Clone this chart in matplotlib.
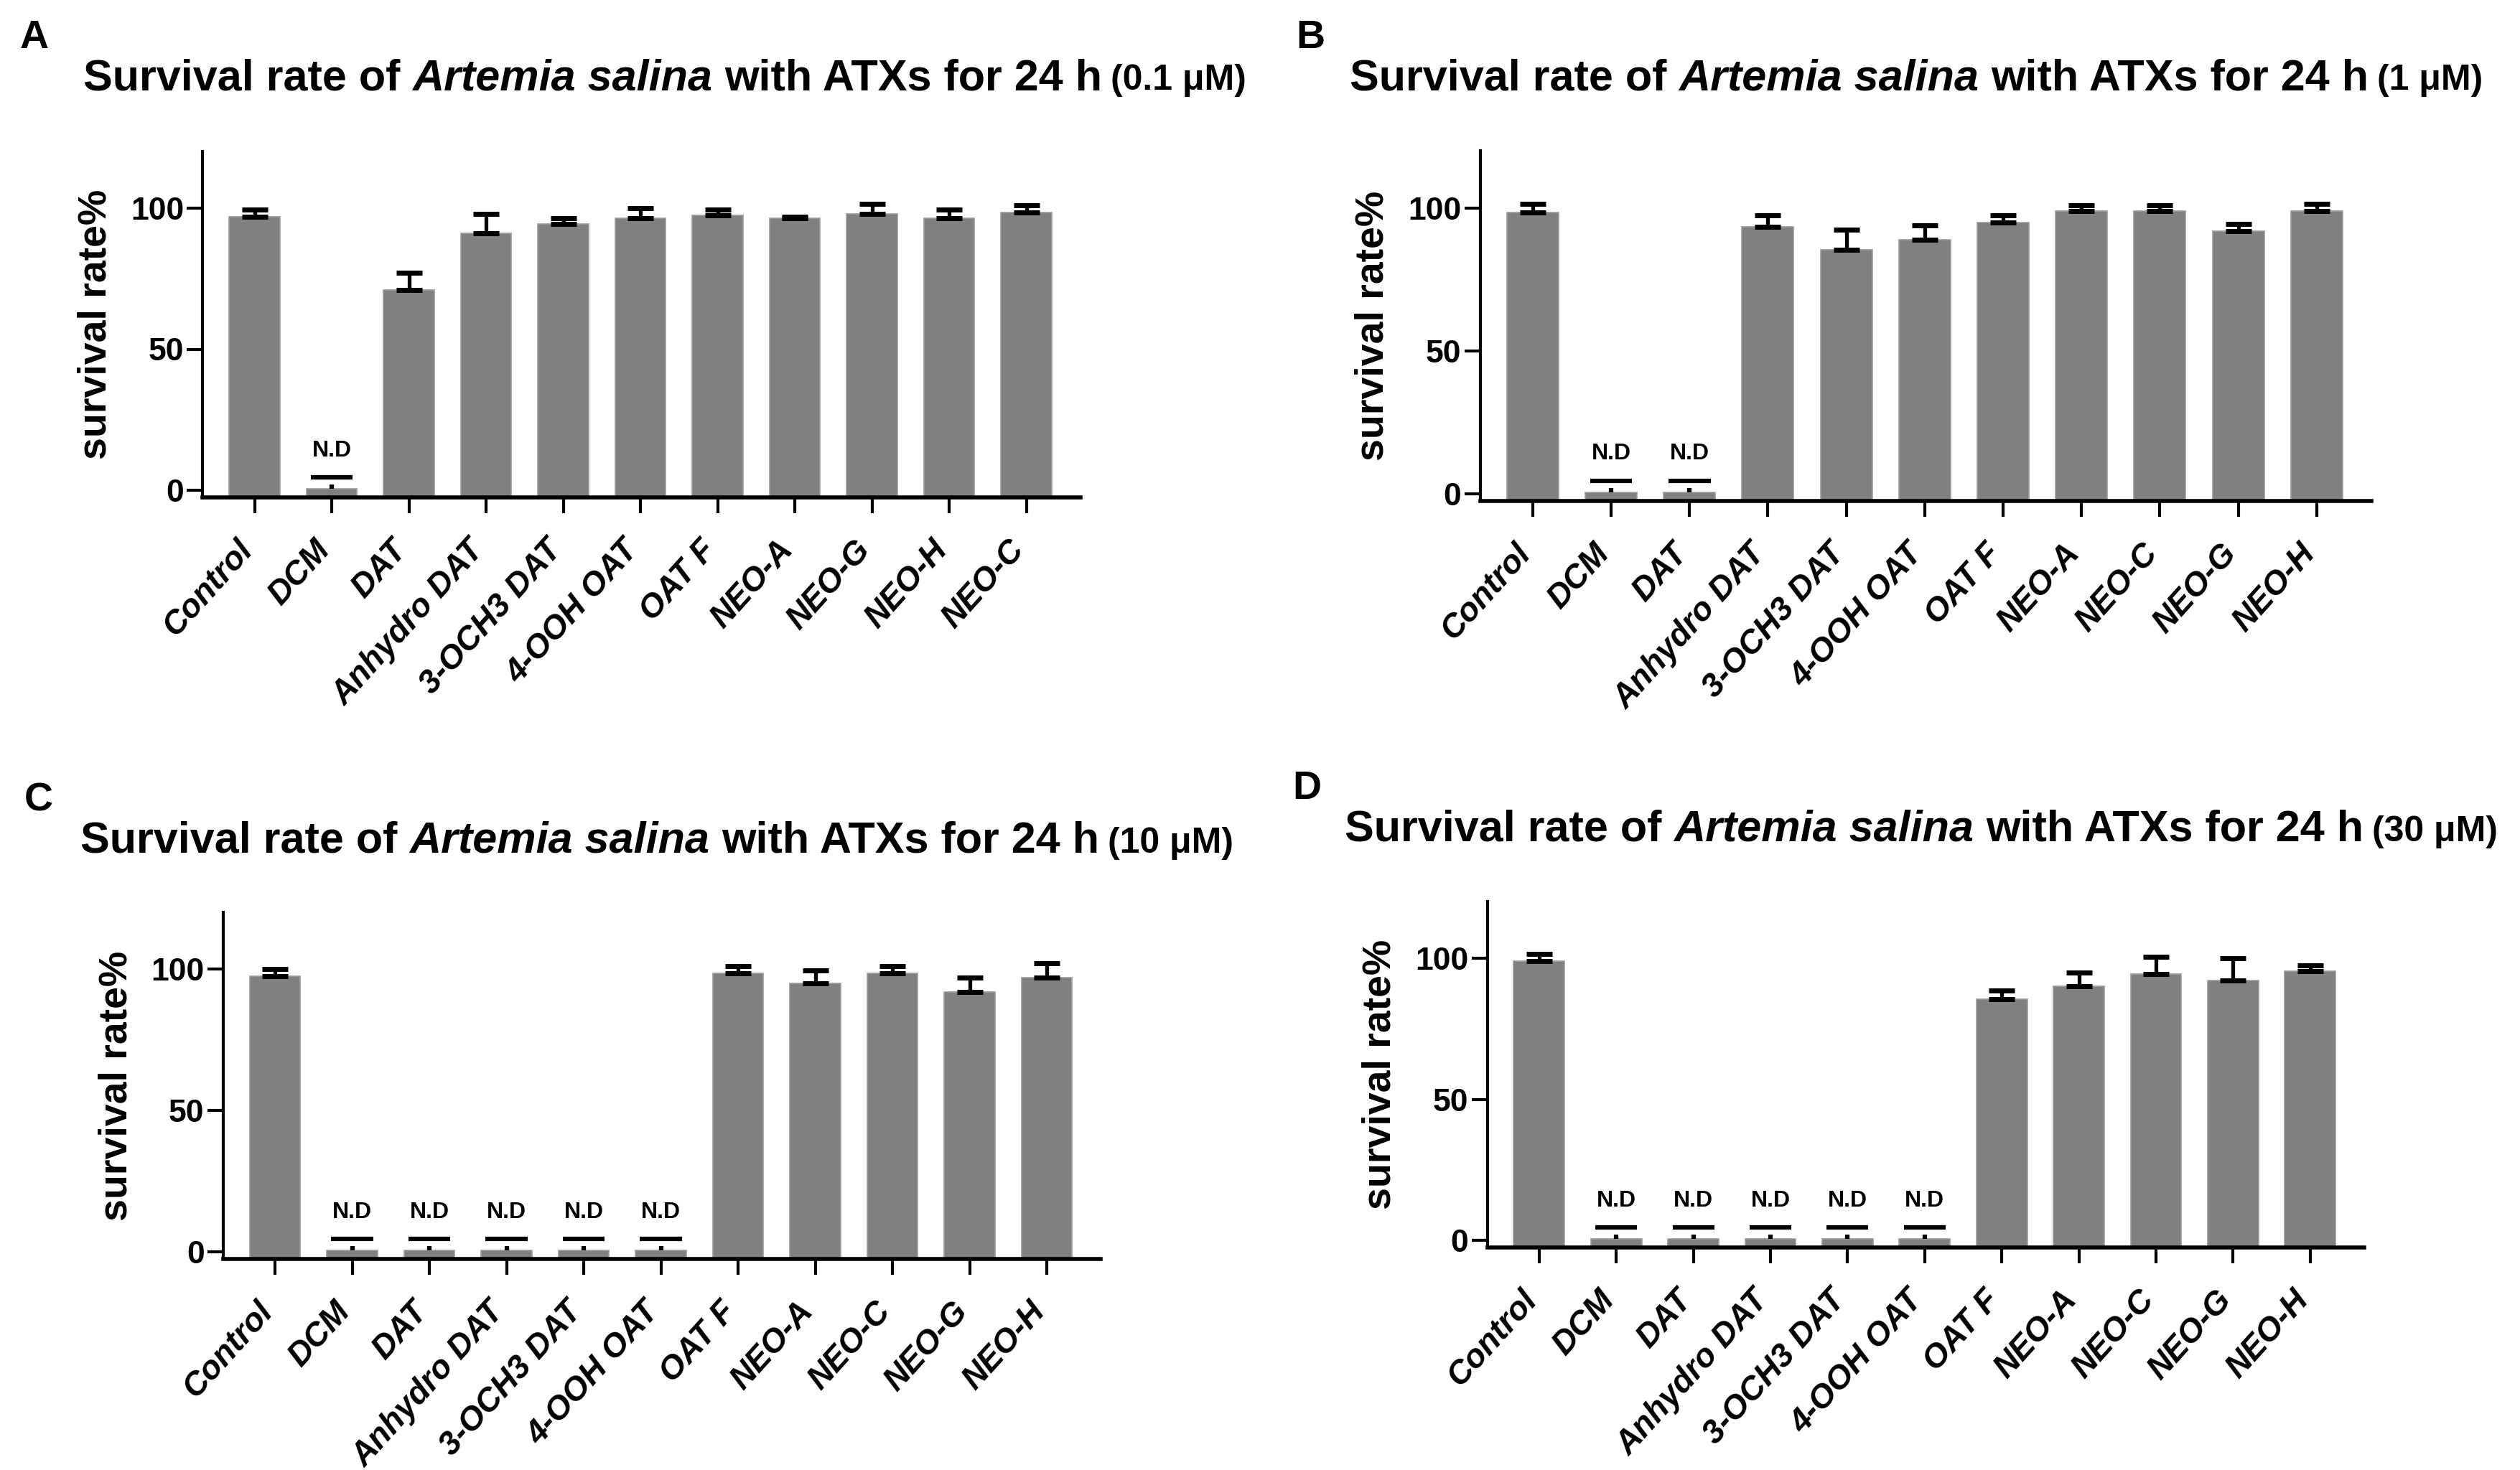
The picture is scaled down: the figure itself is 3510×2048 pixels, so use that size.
import matplotlib
matplotlib.use("Agg")
import matplotlib.pyplot as plt
from matplotlib.transforms import ScaledTranslation
import numpy as np

W, H, DPI = 3510, 2048, 100
FONT = ["Liberation Sans", "DejaVu Sans"]
NARROW = ["Liberation Sans Narrow", "Liberation Sans", "DejaVu Sans"]
plt.rcParams["font.family"] = FONT

# ---------------- data ----------------
cats_A = ["Control", "DCM", "DAT", "Anhydro DAT", "3-OCH3 DAT", "4-OOH OAT",
          "OAT F", "NEO-A", "NEO-G", "NEO-H", "NEO-C"]
mean_A = [97.0, 0.5, 71.0, 91.0, 94.5, 96.5, 97.5, 96.5, 98.0, 96.5, 98.5]
err_A = [2.5, 1.5, 6.0, 7.0, 2.0, 3.5, 2.0, 0.5, 3.5, 3.0, 2.5]
nd_A = [0, 1, 0, 0, 0, 0, 0, 0, 0, 0, 0]

cats_B = ["Control", "DCM", "DAT", "Anhydro DAT", "3-OCH3 DAT", "4-OOH OAT",
          "OAT F", "NEO-A", "NEO-C", "NEO-G", "NEO-H"]
mean_B = [98.5, 0.5, 0.5, 93.5, 85.5, 89.0, 95.0, 99.0, 99.0, 92.0, 99.0]
err_B = [3.0, 1.5, 1.5, 4.0, 7.0, 5.0, 2.5, 2.0, 2.0, 2.5, 2.5]
nd_B = [0, 1, 1, 0, 0, 0, 0, 0, 0, 0, 0]

cats_C = ["Control", "DCM", "DAT", "Anhydro DAT", "3-OCH3 DAT", "4-OOH OAT",
          "OAT F", "NEO-A", "NEO-C", "NEO-G", "NEO-H"]
mean_C = [97.5, 0.5, 0.5, 0.5, 0.5, 0.5, 98.5, 95.0, 98.5, 92.0, 97.0]
err_C = [2.5, 1.5, 1.5, 1.5, 1.5, 1.5, 2.5, 4.5, 2.5, 5.0, 5.0]
nd_C = [0, 1, 1, 1, 1, 1, 0, 0, 0, 0, 0]

cats_D = ["Control", "DCM", "DAT", "Anhydro DAT", "3-OCH3 DAT", "4-OOH OAT",
          "OAT F", "NEO-A", "NEO-C", "NEO-G", "NEO-H"]
mean_D = [99.0, 0.5, 0.5, 0.5, 0.5, 0.5, 85.5, 90.0, 94.5, 92.0, 95.5]
err_D = [2.5, 1.5, 1.5, 1.5, 1.5, 1.5, 3.0, 5.0, 6.0, 8.0, 2.0]
nd_D = [0, 1, 1, 1, 1, 1, 0, 0, 0, 0, 0]

letters = ["A", "B", "C", "D"]
concs = ["(0.1 μM)", "(1 μM)", "(10 μM)", "(30 μM)"]
yticks = [0, 50, 100]
ylabel = "survival rate%"
nd_text = "N.D"

# ---------------- layout (pixels) ----------------
XL = (-0.67, 10.7)
YL = (-2.5, 120)
layout = [
    dict(x0=354.5, sp=107.5, zero=683, sc=3.93, lab=(28, 67), title=(116, 125)),
    dict(x0=2134.8, sp=109.2, zero=688, sc=3.98, lab=(1805, 67), title=(1880, 125)),
    dict(x0=383.0, sp=107.5, zero=1744, sc=3.94, lab=(34, 1129), title=(112, 1188)),
    dict(x0=2143.8, sp=107.4, zero=1728, sc=3.93, lab=(1800, 1113), title=(1873, 1172)),
]
datasets = [(cats_A, mean_A, err_A, nd_A), (cats_B, mean_B, err_B, nd_B),
            (cats_C, mean_C, err_C, nd_C), (cats_D, mean_D, err_D, nd_D)]

fig = plt.figure(figsize=(W / DPI, H / DPI), dpi=DPI)
renderer = fig.canvas.get_renderer()

PT = DPI / 72.0
GREY = "#808080"


def fx(px):
    return px / W


def fy(py):
    return 1 - py / H


def draw_title(xpx, base, conc):
    pieces = [("Survival rate of", dict(weight="bold", style="normal", size=44, family=FONT)),
              ("Artemia salina", dict(weight="bold", style="italic", size=44, family=FONT)),
              ("with ATXs for 24 h", dict(weight="bold", style="normal", size=44, family=FONT)),
              (conc, dict(weight="bold", style="normal", size=36, family=NARROW))]
    x = xpx
    for i, (s, kw) in enumerate(pieces):
        t = fig.text(fx(x), fy(base), s, ha="left", va="baseline", **kw)
        bb = t.get_window_extent(renderer=renderer)
        x = x + bb.width + 0.278 * kw["size"] * PT * (1.0 if i < 2 else 0.7)


for (cats, mean, err, nd), L, letter, conc in zip(datasets, layout, letters, concs):
    left = L["x0"] + XL[0] * L["sp"]
    right = L["x0"] + XL[1] * L["sp"]
    top = L["zero"] - YL[1] * L["sc"]
    bottom = L["zero"] - YL[0] * L["sc"]
    ax = fig.add_axes([fx(left), fy(bottom), (right - left) / W, (bottom - top) / H])
    ax.set_xlim(*XL)
    ax.set_ylim(*YL)
    x = np.arange(len(cats))
    m = np.array(mean)
    e = np.array(err)
    ndm = np.array(nd, dtype=bool)
    ax.bar(x, m - YL[0], bottom=YL[0], width=0.66, color=GREY,
           edgecolor="#9c9c9c", linewidth=1.2, zorder=2)
    ok = ~ndm
    ax.errorbar(x[ok], m[ok], yerr=[np.zeros(ok.sum()), e[ok]], fmt="none",
                ecolor="black", elinewidth=3.8, capsize=13, capthick=5.0, zorder=3)
    if ndm.any():
        ax.errorbar(x[ndm], m[ndm], yerr=[np.zeros(ndm.sum()), e[ndm]], fmt="none",
                    ecolor="black", elinewidth=4.5, capsize=0, zorder=3)
        ax.hlines(m[ndm] + e[ndm] + 2.5, x[ndm] - 0.27, x[ndm] + 0.27,
                  colors="black", linewidth=4.5, zorder=3)
        for xi, yi in zip(x[ndm], m[ndm] + e[ndm]):
            ax.text(xi, yi + 12, nd_text, ha="center", va="center",
                    fontsize=23, fontweight="bold", family=NARROW)
    for s in ("top", "right"):
        ax.spines[s].set_visible(False)
    ax.spines["left"].set_linewidth(3.0)
    ax.spines["bottom"].set_linewidth(4.0)
    ax.tick_params(axis="y", length=16, width=3, pad=3)
    ax.tick_params(axis="x", length=16, width=3, pad=26)
    ax.set_yticks(yticks)
    ax.set_yticklabels([str(v) for v in yticks], fontsize=32, fontweight="bold")
    ax.set_xticks(x)
    ax.set_xticklabels(cats, fontsize=33, fontweight="bold", style="italic",
                       rotation=48, ha="right", va="center", rotation_mode="anchor")
    shift = ScaledTranslation(-10 / DPI, -8 / DPI, fig.dpi_scale_trans)
    for lab in ax.get_xticklabels():
        lab.set_transform(lab.get_transform() + shift)
    ax.set_ylabel(ylabel, fontsize=40, fontweight="bold", labelpad=16)
    ax.patch.set_alpha(0)

    fig.text(fx(L["lab"][0]), fy(L["lab"][1]), letter, ha="left", va="baseline",
             fontsize=40, fontweight="bold")
    draw_title(L["title"][0], L["title"][1], conc)

fig.savefig("out.png", dpi=DPI)
